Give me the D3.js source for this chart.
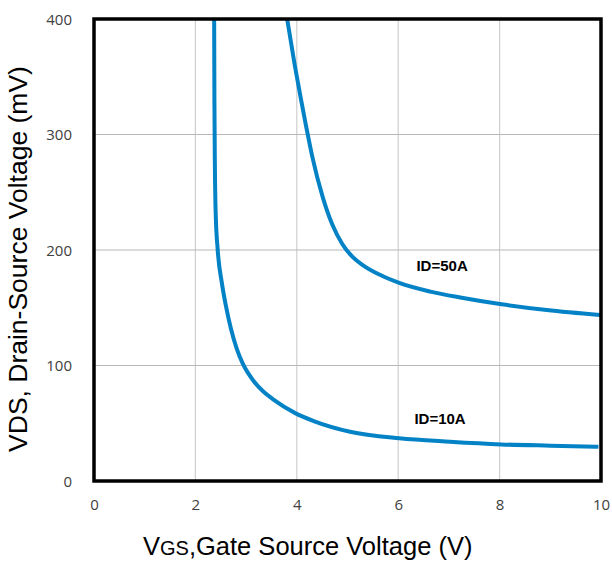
<!DOCTYPE html>
<html>
<head>
<meta charset="utf-8">
<script src="https://cdn.jsdelivr.net/npm/d3@7"></script>
<style>
  html, body { margin: 0; padding: 0; background: #fff; }
  svg { display: block; }
</style>
</head>
<body>
<svg id="chart" width="612" height="561"></svg>
<script>
// Axis tick values
const xTicks = [0, 2, 4, 6, 8, 10];
const yTicks = [0, 100, 200, 300, 400];

// ID = 10 A curve: gate-source voltage (V) vs drain-source voltage (mV)
const vgs10 = [2.37, 2.375, 2.385, 2.40, 2.44, 2.52, 2.60, 2.70, 2.82, 2.93, 3.14, 3.35, 3.54, 3.96, 4.36, 5.05, 6.02, 7.02, 8.03, 9.0, 9.95];
const vds10 = [400, 330, 270, 232, 200, 172, 152, 132, 114, 102, 87, 77, 70.5, 59, 51.5, 42.7, 37, 34, 31.7, 30.6, 29.7];

// ID = 50 A curve
const vgs50 = [3.81, 3.96, 4.08, 4.18, 4.31, 4.51, 4.70, 4.90, 5.10, 5.30, 5.64, 6.02, 6.63, 7.28, 8.04, 8.93, 9.98];
const vds50 = [400, 360, 331, 308, 280, 246, 222, 205, 194, 187, 178.5, 171.5, 164, 158.5, 153, 148, 143.7];

// Curve labels and their anchor points (VGS, VDS)
const seriesLabels = ["ID=10A", "ID=50A"];
const labelVgs = [6.32, 6.36];
const labelVds = [49.5, 182];

const svg = d3.select("#chart");
const m = { left: 94, right: 601, top: 19, bottom: 481 };

const x = d3.scaleLinear().domain([0, 10]).range([m.left, m.right]);
const y = d3.scaleLinear().domain([0, 400]).range([m.bottom, m.top]);

// Gridlines
const grid = svg.append("g");
grid.selectAll("line.v").data(xTicks.slice(1, -1)).join("line")
  .attr("x1", d => x(d)).attr("x2", d => x(d))
  .attr("y1", m.top).attr("y2", m.bottom)
  .attr("stroke", "#cfcfcf").attr("stroke-width", 1.2);
grid.selectAll("line.h").data(yTicks.slice(1, -1)).join("line")
  .attr("x1", m.left).attr("x2", m.right)
  .attr("y1", d => y(d)).attr("y2", d => y(d))
  .attr("stroke", "#b8b8b8").attr("stroke-width", 1.2);

// Curves
const line = d3.line()
  .x(d => x(d[0])).y(d => y(d[1]))
  .curve(d3.curveMonotoneX);

const series = [d3.zip(vgs10, vds10), d3.zip(vgs50, vds50)];
svg.append("g").selectAll("path").data(series).join("path")
  .attr("d", line)
  .attr("fill", "none")
  .attr("stroke", "#0482c6")
  .attr("stroke-width", 4)
  .attr("stroke-linejoin", "round");

// Frame
svg.append("rect")
  .attr("x", m.left).attr("y", m.top)
  .attr("width", m.right - m.left).attr("height", m.bottom - m.top)
  .attr("fill", "none").attr("stroke", "#000").attr("stroke-width", 3.5);

// Tick labels
const tickFont = "'Open Sans', 'Noto Sans', sans-serif";
const xAxis = d3.axisBottom(x).tickValues(xTicks).tickSize(0).tickPadding(0);
const gx = svg.append("g").attr("transform", `translate(0,${m.bottom})`).call(xAxis);
gx.select(".domain").remove();
gx.selectAll("text")
  .attr("y", 24).attr("dy", "0.35em")
  .attr("font-family", tickFont).attr("font-size", 15).attr("fill", "#404040");

const yAxis = d3.axisLeft(y).tickValues(yTicks).tickSize(0).tickPadding(0);
const gy = svg.append("g").attr("transform", `translate(72,0)`).call(yAxis);
gy.select(".domain").remove();
gy.selectAll("text")
  .attr("x", 0).attr("dy", "0.35em")
  .attr("font-family", tickFont).attr("font-size", 15).attr("fill", "#404040");

// Curve labels
svg.append("g").selectAll("text").data(seriesLabels).join("text")
  .attr("x", (d, i) => x(labelVgs[i]))
  .attr("y", (d, i) => y(labelVds[i]))
  .attr("font-family", "'Liberation Sans', Arial, sans-serif")
  .attr("font-weight", "bold").attr("font-size", 15).attr("fill", "#000")
  .text(d => d);

// Axis titles
const titleFont = "'Liberation Sans', Arial, sans-serif";
const xt = svg.append("text")
  .attr("x", 143).attr("y", 555)
  .attr("font-family", titleFont).attr("font-size", 25.5).attr("fill", "#000");
xt.append("tspan").text("V");
xt.append("tspan").attr("font-size", 20).text("GS");
xt.append("tspan").text(",Gate Source Voltage (V)");

svg.append("text")
  .attr("transform", "translate(27,259) rotate(-90)")
  .attr("text-anchor", "middle")
  .attr("font-family", titleFont).attr("font-size", 26.5).attr("fill", "#000")
  .text("VDS, Drain-Source Voltage (mV)");
</script>
</body>
</html>
